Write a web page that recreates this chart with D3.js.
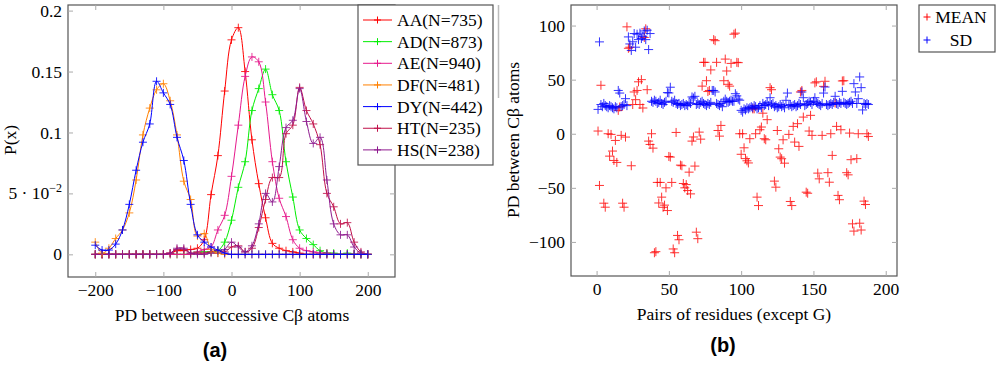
<!DOCTYPE html>
<html>
<head>
<meta charset="utf-8">
<script src="https://cdn.jsdelivr.net/npm/d3@7"></script>
<style>
    body { margin: 0; background: #fff; }
    svg text { font-family: "Liberation Serif", "Times New Roman", serif; fill: #000; }
    svg text.panel-tag { font-family: "Liberation Sans", Arial, sans-serif; font-weight: bold; }
</style>
</head>
<body>
<svg id="fig" width="1000" height="384"></svg>
<script>
// ---- panel (a): distributions of PD between successive C-beta atoms ----
const pdBins = [-200, -190, -180, -170, -160, -150, -140, -130, -120, -110, -100,
    -90, -80, -70, -60, -50, -40, -30, -20, -10, 0, 10, 20, 30, 40, 50, 60, 70, 80, 90,
    100, 110, 120, 130, 140, 150, 160, 170, 180, 190, 200];

const aa = [0, 0, 0, 0, 0, 0, 0, 0, 0, 0, 0,
    0.001, 0.003, 0.003, 0.004, 0.005, 0.012, 0.049, 0.081, 0.134, 0.176, 0.186, 0.150, 0.094, 0.058, 0.030, 0.009, 0.005, 0.003, 0.002,
    0.001, 0, 0, 0, 0, 0, 0, 0, 0, 0, 0];
const ad = [0, 0, 0, 0, 0, 0, 0, 0, 0, 0, 0,
    0, 0, 0, 0, 0.002, 0.002, 0.002, 0.003, 0.010, 0.028, 0.055, 0.076, 0.118, 0.136, 0.152, 0.131, 0.118, 0.076, 0.047,
    0.020, 0.013, 0.008, 0.003, 0.001, 0.001, 0, 0.001, 0, 0, 0];
const ae = [0, 0, 0, 0, 0, 0, 0, 0, 0, 0, 0,
    0, 0, 0, 0, 0.002, 0.004, 0.006, 0.020, 0.032, 0.064, 0.106, 0.146, 0.162, 0.158, 0.125, 0.076, 0.046, 0.031, 0.012,
    0.005, 0.003, 0.002, 0.001, 0.001, 0, 0, 0, 0, 0, 0];
const df = [0.010, 0.001, 0.005, 0.013, 0.020, 0.034, 0.061, 0.098, 0.120, 0.135, 0.140,
    0.126, 0.098, 0.060, 0.045, 0.015, 0.017, 0.004, 0.001, 0, 0, 0, 0, 0, 0, 0, 0, 0, 0, 0,
    0, 0, 0, 0, 0, 0, 0, 0, 0, 0, 0];
const dy = [0.0075, 0.0035, 0.0035, 0.0084, 0.020, 0.041, 0.069, 0.092, 0.107, 0.142, 0.1325,
    0.123, 0.096, 0.077, 0.041, 0.016, 0.010, 0.006, 0.0035, 0.001, 0, 0, 0, 0, 0, 0, 0, 0, 0, 0,
    0, 0, 0, 0, 0, 0, 0, 0, 0, 0, 0];
const ht = [0, 0, 0, 0, 0, 0, 0, 0, 0, 0, 0,
    0.001, 0.004, 0.004, 0.001, 0.001, 0.001, 0.002, 0.003, 0.002, 0.006, 0.007, 0.002, 0.005, 0.022, 0.045, 0.063, 0.063, 0.099, 0.106,
    0.137, 0.118, 0.107, 0.090, 0.050, 0.039, 0.025, 0.026, 0.010, 0.002, 0];
const hs = [0, 0, 0, 0, 0, 0, 0, 0, 0, 0, 0,
    0.001, 0.005, 0.005, 0.001, 0, 0, 0.001, 0.001, 0.004, 0.010, 0.006, 0.002, 0.007, 0.025, 0.050, 0.043, 0.072, 0.104, 0.110,
    0.136, 0.109, 0.091, 0.096, 0.061, 0.025, 0.016, 0.016, 0.006, 0.001, 0];

const pairNames = ["AA(N=735)", "AD(N=873)", "AE(N=940)", "DF(N=481)", "DY(N=442)", "HT(N=235)", "HS(N=238)"];
const pairColors = ["#ff0000", "#00ee00", "#e6198c", "#ff8000", "#0000ff", "#c0104a", "#8e1a8e"];
const pairValues = [aa, ad, ae, df, dy, ht, hs];
// drawing order, DY ends up on top like in the figure
const drawOrder = [0, 1, 2, 5, 6, 3, 4];

const pTicks = [0, 0.05, 0.1, 0.15, 0.2];
const pdTicks = [-200, -100, 0, 100, 200];

// ---- panel (b): mean / sd per residue pair ----
const meanPts = [
    [1, 2.5], [2, -47.8], [3, 44.8], [5, -64.2], [6, -67.9], [8, 0], [9, -20.7], [10, -0.6], [11, -16], [12, -24.7],
    [13, -6.2], [14, -26.5], [15, 21.6], [16, 24.7], [17, -1.5], [18, -64.2], [19, -67.9], [20, -3.1], [21, 98.8], [22, 79],
    [23, 80], [24, -29.6], [25, 27], [26, 38.6], [27, 31.5], [28, 40], [29, 48], [30, 27], [31, 50], [32, 23.8],
    [33, 89], [34, 97], [35, 40.7], [36, -6.8], [37, -9.9], [38, 0], [39, -13.3], [40, -110], [41, -109], [42, -45],
    [43, -64], [44, -45], [45, -58.6], [46, -68], [47, -66], [48, -50], [49, -71], [50, -21], [51, -21.6], [52, -45],
    [53, -106.5], [54, -110], [55, 1.2], [56, -94], [57, -98], [58, -29], [59, -29.6], [60, -46], [61, -50], [62, -47],
    [63, -52.5], [64, -35.5], [65, -55.6], [66, -6.8], [67, -3], [68, -29.9], [69, -91], [70, -97], [71, 1.5], [72, -5],
    [73, 44], [74, 66], [75, 66], [76, 49], [77, 39], [78, 40], [79, 59], [81, 87], [82, 86], [83, 66],
    [84, 3], [85, -2.2], [86, 7.7], [88, 49], [89, 69], [90, 58], [91, 45.7], [92, 44], [93, 65], [95, 92],
    [96, 93], [97, 66], [98, 65.7], [99, 0], [100, -19], [101, 0], [102, -13], [103, -23], [104, -25], [105, -27],
    [106, -4.6], [108, 23], [109, 23], [110, 0], [111, -58.6], [112, -66.4], [113, 3.7], [114, 6.2], [115, 19], [116, -4.6],
    [117, -5.6], [118, 13], [120, 42.6], [121, 40.7], [123, -43.8], [124, -49.4], [125, 3], [126, -13.9], [127, -21.6], [128, -23.1],
    [129, -5.6], [130, -27.2], [133, -0.6], [134, -62.6], [135, -66.4], [136, 6.8], [137, -7.7], [139, 9.3], [140, -11.7], [141, 38.6],
    [142, 40], [143, 15.4], [145, -54], [146, -55], [147, 2.5], [148, 17], [149, -1.5], [151, 47], [152, 48], [153, -36.4],
    [154, -41.7], [156, -1.5], [157, 43.8], [158, 48.5], [160, -36], [161, -44.8], [162, 0], [163, -20], [165, 28.4], [166, 6.8],
    [167, -57], [168, -61], [169, 3.7], [170, 48.8], [171, 49], [173, -36], [174, -38], [175, 0.6], [176, -24], [177, -83.3],
    [178, -90], [180, -23], [181, 0], [182, -82.7], [183, -89], [185, -62.3], [186, -65.4], [187, 0], [188, -2.5]
];

// SD for residue pairs 1..188
const sdVals = [
    22.5, 84.9, 27, 25, 28, 26, 25, 24, 26, 25, 24, 23, 25, 24, 40, 37.6, 25, 26, 27, 32.4,
    26, 89.5, 83, 77, 85, 92.6, 80, 92, 87, 93, 88, 90, 95, 87, 95.7, 77.8, 92.6, 30, 29, 31,
    30, 28, 29, 31, 28, 27, 29, 30, 38, 37.7, 43, 30, 29, 31, 28, 27, 28, 26, 27, 28,
    26, 27, 26, 29, 28, 34, 33, 34.6, 27, 28, 27, 29, 30, 28, 27, 26, 28, 27, 29, 40,
    40, 38.6, 28, 27, 26, 28, 25, 30, 32, 30, 29, 30, 31, 30, 30, 37, 35, 32, 31, 21.6,
    20, 23, 22, 24, 23, 24, 25, 24, 26, 25, 23, 24, 26, 24, 28, 26, 27, 29, 26, 33.3,
    27, 28, 25, 26, 24, 25, 27, 25, 26, 24, 30.9, 37.6, 26, 27, 25, 26, 27, 25, 26, 28,
    27, 38.6, 33.3, 26, 27, 28, 30, 29, 27, 30, 33.3, 29, 28, 27, 26, 28, 37.6, 43.2, 27, 26,
    27, 28, 27, 29, 34.6, 28, 27, 29, 28, 39.2, 29, 28, 27, 28, 29, 30, 28, 46.3, 38.6, 28,
    32.4, 52.5, 42.6, 22, 28, 27, 28, 27
];

const pdMeanTicks = [-100, -50, 0, 50, 100];
const pairTicks = [0, 50, 100, 150, 200];

const svg = d3.select("#fig");
const serif = '"Liberation Serif", "Times New Roman", serif';
const fs = "17.5px";
const frameColor = "#555";
const tickColor = "#aaa";
const plus = s => `M${-s},0H${s}M0,${-s}V${s}`;
const serifText = t => t.style("font-family", serif).style("font-size", fs);

function frameAxes(g, x, y, xTicks, yTicks, yFormat) {
    const [x0, x1] = x.range();
    const [y0, y1] = y.range();
    const tick = sel => {
        sel.select(".domain").remove();
        sel.attr("font-family", null).attr("font-size", null);
        sel.selectAll(".tick line").attr("stroke", tickColor);
        sel.selectAll("text").call(serifText);
    };
    g.append("g").attr("transform", `translate(0,${y0})`)
        .call(d3.axisBottom(x).tickValues(xTicks).tickSize(-5).tickPadding(7))
        .call(tick);
    g.append("g").attr("transform", `translate(0,${y1})`)
        .call(d3.axisTop(x).tickValues(xTicks).tickSize(-5).tickFormat(""))
        .call(tick);
    g.append("g").attr("transform", `translate(${x0},0)`)
        .call(d3.axisLeft(y).tickValues(yTicks).tickSize(-5).tickPadding(6).tickFormat(yFormat))
        .call(tick);
    g.append("g").attr("transform", `translate(${x1},0)`)
        .call(d3.axisRight(y).tickValues(yTicks).tickSize(-5).tickFormat(""))
        .call(tick);
    return g;
}

// ================= panel (a) =================
const xa = d3.scaleLinear([-240, 240], [68, 395]);
const ya = d3.scaleLinear([-0.0186, 0.2046], [277, 5]);
const ga = svg.append("g");

ga.append("rect")
    .attr("x", 68).attr("y", 5).attr("width", 327).attr("height", 272)
    .attr("fill", "none").attr("stroke", frameColor).attr("stroke-width", 1.2);

frameAxes(ga, xa, ya, pdTicks, pTicks, d => d === 0.05 ? "" : d3.format("~g")(d));

// the 5·10^-2 label
ga.append("text")
    .attr("x", 62).attr("y", ya(0.05) + 6)
    .attr("text-anchor", "end")
    .call(serifText)
    .call(t => {
        t.append("tspan").text("5 · 10");
        t.append("tspan").attr("dy", -7).style("font-size", "12px").text("−2");
    });

const line = d3.line()
    .x((d, i) => xa(pdBins[i]))
    .y(d => ya(d))
    .curve(d3.curveCatmullRom.alpha(0.5));

ga.append("clipPath").attr("id", "clipA")
    .append("rect").attr("x", 68).attr("y", 5).attr("width", 327).attr("height", 272);

const plotA = ga.append("g").attr("clip-path", "url(#clipA)");
drawOrder.forEach(k => {
    const s = plotA.append("g");
    s.append("path")
        .attr("d", line(pairValues[k]))
        .attr("fill", "none")
        .attr("stroke", pairColors[k])
        .attr("stroke-width", 1);
    s.selectAll("path.mk")
        .data(pairValues[k])
        .join("path")
        .attr("class", "mk")
        .attr("transform", (d, i) => `translate(${xa(pdBins[i])},${ya(d)})`)
        .attr("d", plus(4))
        .attr("stroke", pairColors[k])
        .attr("stroke-width", 1)
        .attr("opacity", 0.85);
});

ga.append("text")
    .attr("x", 232).attr("y", 321)
    .attr("text-anchor", "middle")
    .call(serifText)
    .text("PD between successive Cβ atoms");

ga.append("text")
    .attr("transform", "translate(16,140) rotate(-90)")
    .attr("text-anchor", "middle")
    .call(serifText)
    .text("P(x)");

// legend of panel (a)
const legA = ga.append("g");
legA.append("rect")
    .attr("x", 358).attr("y", 5).attr("width", 135).attr("height", 160)
    .attr("fill", "#fff").attr("stroke", frameColor).attr("stroke-width", 1.2);
pairNames.forEach((name, i) => {
    const cy = 20 + i * 21.65;
    legA.append("line")
        .attr("x1", 363).attr("x2", 392).attr("y1", cy).attr("y2", cy)
        .attr("stroke", pairColors[i]).attr("stroke-width", 1);
    legA.append("path")
        .attr("transform", `translate(377.5,${cy})`)
        .attr("d", plus(3.5))
        .attr("stroke", pairColors[i]).attr("stroke-width", 1);
    legA.append("text")
        .attr("x", 397).attr("y", cy + 6)
        .call(serifText)
        .text(name);
});

// stray vertical rule left over between the panels
svg.append("line")
    .attr("x1", 498.5).attr("x2", 498.5).attr("y1", 5).attr("y2", 98)
    .attr("stroke", "#bbb").attr("stroke-width", 1.5);

svg.append("text")
    .attr("class", "panel-tag")
    .attr("x", 215).attr("y", 357)
    .attr("text-anchor", "middle")
    .style("font-size", "20px")
    .text("(a)");

// ================= panel (b) =================
const xb = d3.scaleLinear([-17.7, 207.8], [571, 897]);
const yb = d3.scaleLinear([-131.5, 119], [276, 5]);
const gb = svg.append("g");

gb.append("rect")
    .attr("x", 571).attr("y", 5).attr("width", 326).attr("height", 271)
    .attr("fill", "none").attr("stroke", frameColor).attr("stroke-width", 1.2);

frameAxes(gb, xb, yb, pairTicks, pdMeanTicks, d3.format("d"));

gb.append("g").selectAll("path")
    .data(meanPts)
    .join("path")
    .attr("transform", d => `translate(${xb(d[0])},${yb(d[1])})`)
    .attr("d", plus(4.5))
    .attr("stroke", "#ff0000")
    .attr("stroke-width", 1)
    .attr("opacity", 0.8);

gb.append("g").selectAll("path")
    .data(sdVals)
    .join("path")
    .attr("transform", (d, i) => `translate(${xb(i + 1)},${yb(d)})`)
    .attr("d", plus(4.5))
    .attr("stroke", "#0000ff")
    .attr("stroke-width", 1)
    .attr("opacity", 0.8);

gb.append("text")
    .attr("x", 734).attr("y", 320)
    .attr("text-anchor", "middle")
    .call(serifText)
    .text("Pairs of residues (except G)");

gb.append("text")
    .attr("transform", "translate(519,140) rotate(-90)")
    .attr("text-anchor", "middle")
    .call(serifText)
    .text("PD between Cβ atoms");

// legend of panel (b)
const legB = gb.append("g");
legB.append("rect")
    .attr("x", 919).attr("y", 5).attr("width", 76).attr("height", 47)
    .attr("fill", "#fff").attr("stroke", frameColor).attr("stroke-width", 1.2);
[["MEAN", "#ff0000"], ["SD", "#0000ff"]].forEach(([name, c], i) => {
    const cy = 17 + i * 23;
    legB.append("path")
        .attr("transform", `translate(927,${cy})`)
        .attr("d", plus(3.5))
        .attr("stroke", c).attr("stroke-width", 1);
    legB.append("text")
        .attr("x", 961).attr("y", cy + 6)
        .attr("text-anchor", "middle")
        .call(serifText)
        .text(name);
});

svg.append("text")
    .attr("class", "panel-tag")
    .attr("x", 723).attr("y", 352)
    .attr("text-anchor", "middle")
    .style("font-size", "20px")
    .text("(b)");
</script>
</body>
</html>
